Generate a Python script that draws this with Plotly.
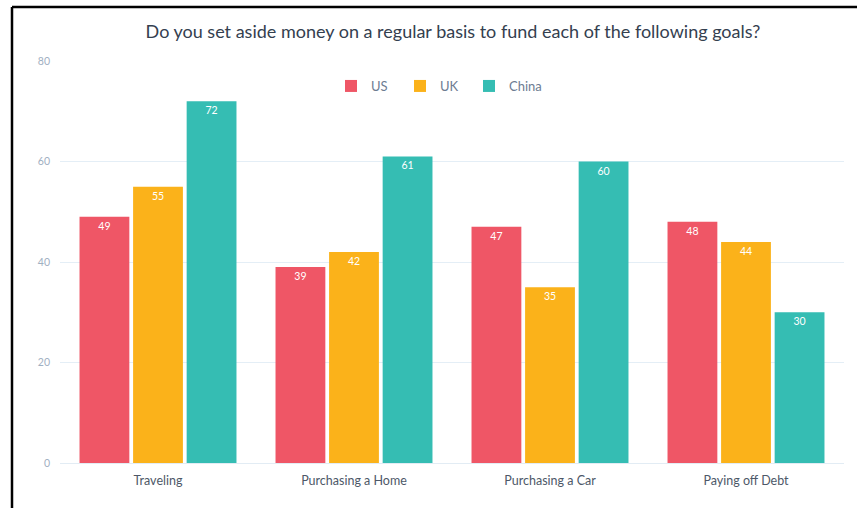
import plotly.graph_objects as go

categories = ["Traveling", "Purchasing a Home", "Purchasing a Car", "Paying off Debt"]
us = [49, 39, 47, 48]
uk = [55, 42, 35, 44]
china = [72, 61, 60, 30]
y_ticks = [0, 20, 40, 60, 80]

colors = {"US": "#ef5666", "UK": "#fbb21a", "China": "#35bdb3"}
legend_widths = {"US": 24, "UK": 24, "China": 40}

fig = go.Figure()
for name, vals in [("US", us), ("UK", uk), ("China", china)]:
    fig.add_trace(go.Bar(
        name=name, x=categories, y=vals,
        marker=dict(color=colors[name], line=dict(width=0)),
        text=[str(v) for v in vals], textposition="inside",
        insidetextanchor="end", legendwidth=legend_widths[name],
        textfont=dict(color="white", size=10.5, family="Lato"),
    ))

L, R, T, B = 60, 13, 61, 45
W, H = 857, 508
pw, ph = W - L - R, H - T - B
def px(x):
    return (x - L) / pw
def py(y):
    return (H - B - y) / ph

fig.update_layout(
    width=W, height=H,
    margin=dict(l=L, r=R, t=T, b=B, pad=0),
    paper_bgcolor="white", plot_bgcolor="white",
    barmode="group", bargap=0.18, bargroupgap=0.07,
    title=dict(text="Do you set aside money on a regular basis to fund each of the following goals?",
               xref="container", x=453 / W, xanchor="center", y=1 - 32 / H, yanchor="middle",
               font=dict(family="Lato", size=18, color="#34404f")),
    legend=dict(orientation="h", x=px(331), xanchor="left", y=py(86), yanchor="middle",
                font=dict(family="Lato", size=13, color="#6d7c92"),
                itemwidth=30, tracegroupgap=0, bgcolor="rgba(0,0,0,0)"),
    xaxis=dict(showgrid=False, showline=True, linecolor="#e2ecf4", linewidth=1,
               ticks="", ticklabelstandoff=6,
               tickfont=dict(family="Lato", size=12.5, color="#4d5868")),
    yaxis=dict(range=[0, 80], tickvals=y_ticks, showgrid=True, gridcolor="#e4eef6",
               gridwidth=1, zeroline=False, ticks="", ticklabelstandoff=9,
               tickfont=dict(family="Lato", size=10.5, color="#9fb0c2")),
    font=dict(family="Lato"),
    shapes=[
        dict(type="line", xref="paper", yref="paper", x0=px(12), x1=px(12),
             y0=py(H + 2), y1=py(7), line=dict(color="black", width=2.5)),
        dict(type="line", xref="paper", yref="paper", x0=px(12), x1=px(W + 2),
             y0=py(7), y1=py(7), line=dict(color="black", width=2.5)),
    ],
)

fig.write_html("out.html", config={"displayModeBar": False},
               post_script="document.body.style.margin='0';document.body.style.overflow='hidden';")
